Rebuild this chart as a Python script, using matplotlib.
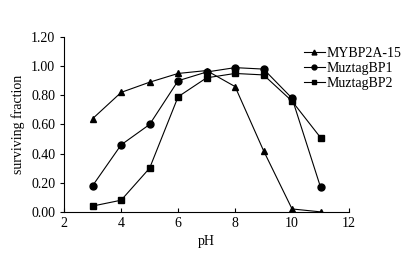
import matplotlib
matplotlib.use('Agg')
import matplotlib.pyplot as plt

plt.rcParams['font.family'] = 'Liberation Serif'

ph = [3, 4, 5, 6, 7, 8, 9, 10, 11]
mybp2a = [0.64, 0.82, 0.89, 0.95, 0.97, 0.86, 0.42, 0.02, 0.00]
muztag1 = [0.18, 0.46, 0.60, 0.90, 0.96, 0.99, 0.98, 0.78, 0.17]
muztag2 = [0.04, 0.08, 0.30, 0.79, 0.92, 0.95, 0.94, 0.76, 0.51]

fig = plt.figure(figsize=(4.14, 2.59), dpi=100)
ax = fig.add_axes([0.155, 0.182, 0.688, 0.675])
ax.plot(ph, mybp2a, 'k-^', lw=0.8, ms=5, label='MYBP2A-15')
ax.plot(ph, muztag1, 'k-o', lw=0.8, ms=5, label='MuztagBP1')
ax.plot(ph, muztag2, 'k-s', lw=0.8, ms=5, label='MuztagBP2')
ax.set_xlim(2, 12)
ax.set_ylim(0, 1.2)
ax.set_xticks([2, 4, 6, 8, 10, 12])
ax.set_yticks([0, 0.2, 0.4, 0.6, 0.8, 1.0, 1.2])
ax.set_yticklabels(['%.2f' % v for v in ax.get_yticks()])
ax.spines['top'].set_visible(False)
ax.spines['right'].set_visible(False)
ax.tick_params(labelsize=10, length=3, width=0.8)
ax.tick_params(axis='x', direction='in')
ax.set_xlabel('pH', fontsize=10)
ax.set_ylabel('surviving fraction', fontsize=10)
ax.legend(loc='upper left', bbox_to_anchor=(0.734, 0.818), bbox_transform=fig.transFigure,
          frameon=False, fontsize=10, handlelength=1.5, handletextpad=0.15,
          labelspacing=0.15, markerscale=0.7, borderaxespad=0, borderpad=0)
fig.savefig('out.png', dpi=100)
